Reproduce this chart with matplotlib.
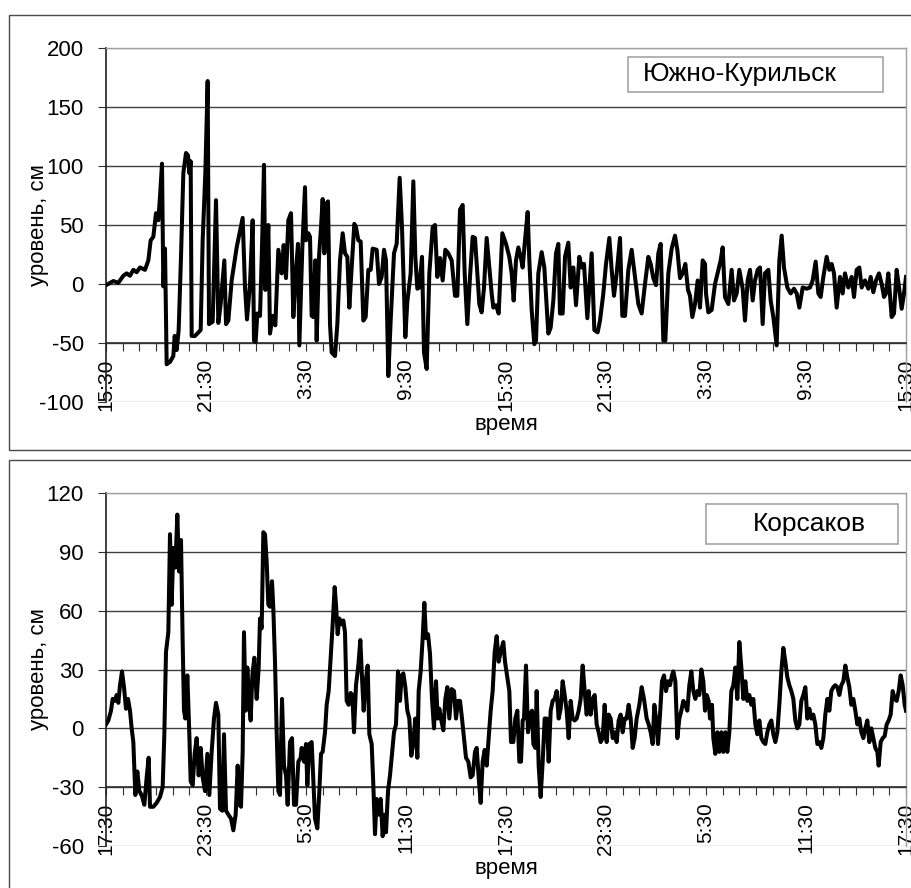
"""Sea level records, two tide gauges: Южно-Курильск and Корсаков."""

import matplotlib
matplotlib.use("Agg")
import matplotlib.pyplot as plt
import numpy as np
from matplotlib.patches import Rectangle

plt.rcParams["font.family"] = ["Liberation Sans", "DejaVu Sans"]
plt.rcParams["axes.unicode_minus"] = False

# hours from the first record, level in cm
KUR_HOURS = [
    0, 0.44, 0.74, 1.04, 1.24, 1.44, 1.64, 1.84, 2.04, 2.34, 2.54, 2.68, 2.84, 3.0, 3.14, 3.24,
    3.36, 3.44, 3.54, 3.64, 3.84, 4.04, 4.12, 4.24, 4.36, 4.5, 4.64, 4.8, 4.92, 5.0, 5.08, 5.14,
    5.34, 5.54, 5.68, 5.8, 5.96, 6.1, 6.18, 6.4, 6.6, 6.74, 6.88, 7.1, 7.2, 7.34, 7.54, 7.84,
    8.2, 8.34, 8.46, 8.64, 8.8, 8.88, 8.98, 9.08, 9.24, 9.36, 9.48, 9.56, 9.64, 9.74, 9.84, 10.0,
    10.16, 10.34, 10.54, 10.66, 10.8, 10.94, 11.1, 11.24, 11.4, 11.52, 11.6, 11.78, 11.94,
    12.0, 12.14, 12.24, 12.34, 12.44, 12.56, 12.64, 12.78, 12.9, 13.0, 13.1, 13.2, 13.32, 13.44,
    13.54, 13.74, 13.88, 14.04, 14.2, 14.34, 14.48, 14.6, 14.74, 14.9, 15.0, 15.14, 15.28, 15.44,
    15.58, 15.74, 15.88, 16.0, 16.24, 16.38, 16.54, 16.68, 16.8, 16.94, 17.08, 17.28, 17.44,
    17.62, 17.76, 17.96, 18.08, 18.28, 18.44, 18.56, 18.68, 18.8, 18.96, 19.08, 19.24, 19.4,
    19.6, 19.74, 19.88, 20.04, 20.2, 20.36, 20.54, 20.74, 20.94, 21.08, 21.24, 21.4, 21.52,
    21.68, 21.84, 22.0, 22.14, 22.28, 22.4, 22.54, 22.68, 22.84, 22.98, 23.14, 23.24, 23.4,
    23.56, 23.78,
    24.0, 24.2, 24.34, 24.46, 24.6, 24.74, 24.88, 25.0, 25.14, 25.3, 25.4, 25.54, 25.7, 25.8,
    25.94, 26.14, 26.3, 26.54, 26.68, 26.84, 27.0, 27.14, 27.24, 27.4, 27.54, 27.74, 27.88,
    28.04, 28.2, 28.4, 28.54, 28.68, 28.88, 29.14, 29.3, 29.5, 29.64, 29.84, 30.0, 30.2, 30.34,
    30.48, 30.64, 30.84, 30.98, 31.14, 31.34, 31.54, 31.74, 31.94, 32.14, 32.34, 32.54, 32.68,
    32.84, 33.0, 33.14, 33.28, 33.44, 33.56, 33.74, 33.94, 34.14, 34.28, 34.44, 34.6, 34.76,
    34.92, 35.04, 35.18, 35.34, 35.5, 35.64, 35.8, 35.94,
    36.0, 36.14, 36.34, 36.54, 36.74, 36.88, 37.0, 37.14, 37.34, 37.54, 37.68, 37.84, 38.0,
    38.2, 38.34, 38.5, 38.64, 38.8, 38.94, 39.1, 39.24, 39.4, 39.54, 39.74, 39.88, 40.04, 40.24,
    40.4, 40.54, 40.68, 40.88, 41.08, 41.28, 41.44, 41.6, 41.8, 42.04, 42.24, 42.4, 42.58,
    42.74, 42.88, 43.04, 43.24, 43.4, 43.54, 43.68, 43.84, 44.04, 44.2, 44.34, 44.54, 44.74,
    44.88, 45.04, 45.2, 45.34, 45.54, 45.74, 45.88, 46.04, 46.2, 46.38, 46.54, 46.68, 46.8,
    46.94, 47.14, 47.28, 47.44, 47.6, 47.74, 47.88, 48.0,
]
KUR_LEVEL = [
    -1, 2.5, 1, 7, 9, 7, 12, 10, 14, 12, 20, 37, 40, 60, 54, 74,
    102, -2, 30, -68, -66, -61, -44, -56, -39, 23, 94, 111, 109, 94, 104, -44,
    -44, -41, -39, 37, 94, 172, -34, -32, 71, -33, -17, 20, -34, -31, 3, 31,
    56, -3, -30, 0, 54, -48, -49, -25, -27, 31, 101, -5, 20, 50, -42, -27,
    -35, 29, 9, 33, 5, 54, 60, -28, 12, 34, -52, 31, 82,
    37, 43, 40, -27, -28, 20, -48, 23, 48, 72, 26, 68, 70, -34,
    -58, -61, -34, 20, 43, 26, 23, -20, 14, 51, 48, 37, 36, -31,
    -28, 12, 12, 30, 29, 0, 6, 29, 20, -78, -31, 26, 34,
    90, 48, -45, -15, 9, 87, 23, -4, -3, 23, -58, -72, 9,
    48, 50, 6, 22, 3, 29, 26, 20, -10, -10, 63, 67, 9,
    -34, 6, 40, 39, 9, -17, -24, -3, 39, 17, -8, -20, -18,
    -25, 43,
    34, 23, 9, -14, 20, 31, 23, 14, 37, 61, 20, -22, -51, -48,
    9, 27, 14, -42, -37, -14, 26, 34, -25, -25, 23, 35, -3,
    14, -18, 23, 14, 17, -29, 26, -39, -41, -31, -8, 17, 39, 12,
    -10, 9, 39, -27, -27, 12, 29, 6, -17, -25, 0, 23, 17,
    5, -1, 26, 34, -48, -48, 9, 30, 41, 29, 5, 9, 17,
    -5, -10, -28, -17, 3, -20, 20, 17,
    -8, -24, -22, 0, 12, 20, 31, -11, -17, 12, -14, -8, 12,
    -4, -31, 3, 12, -14, 3, 12, 14, -34, 9, 12, -14, -28, -52,
    20, 41, 14, -3, -8, -4, -8, -20, -3, -4, -3, 3, 19,
    -8, -11, 6, 23, 12, 17, 9, -20, 6, -8, 9, -3, 6,
    -11, 12, 14, -3, 3, -4, 6, -7, 3, 9, 0, -11, -8,
    9, -28, -25, 12, -5, -21, -8, 6,
]

KOR_HOURS = [
    0, 0.14, 0.3, 0.4, 0.54, 0.64, 0.74, 0.84, 0.96, 1.08, 1.2, 1.32, 1.44, 1.54, 1.64, 1.76,
    1.88, 2.0, 2.14, 2.3, 2.44, 2.56, 2.64, 2.84, 3.04, 3.24, 3.4, 3.5, 3.6, 3.74, 3.84, 3.94,
    4.04, 4.16, 4.28, 4.38, 4.5, 4.6, 4.68, 4.76, 4.88, 5.0, 5.08, 5.2, 5.32, 5.44, 5.56, 5.68,
    5.8, 5.94, 6.08, 6.2, 6.34, 6.48, 6.6, 6.74, 6.84, 6.98, 7.08, 7.2, 7.34, 7.5, 7.64, 7.78,
    7.9, 8.0, 8.1, 8.2, 8.28, 8.38, 8.48, 8.6, 8.68, 8.78, 8.9, 9.04, 9.16, 9.24, 9.34, 9.44,
    9.54, 9.64, 9.74, 9.84, 9.96, 10.04, 10.14, 10.24, 10.34, 10.44, 10.56, 10.68, 10.8, 10.9,
    11.04, 11.16, 11.28, 11.4, 11.54, 11.68, 11.74, 11.88,
    12.0, 12.08, 12.2, 12.34, 12.44, 12.54, 12.68, 12.8, 12.9, 13.0, 13.14, 13.24, 13.36, 13.48,
    13.6, 13.72, 13.8, 13.9, 14.0, 14.14, 14.24, 14.34, 14.44, 14.56, 14.68, 14.78, 14.88, 15.0,
    15.14, 15.26, 15.36, 15.46, 15.58, 15.7, 15.8, 15.94, 16.04, 16.14, 16.24, 16.36, 16.48,
    16.6, 16.72, 16.8, 16.92, 17.04, 17.16, 17.28, 17.4, 17.52, 17.64, 17.74, 17.84, 17.96,
    18.08, 18.2, 18.32, 18.44, 18.56, 18.68, 18.76, 18.88, 19.0, 19.1, 19.2, 19.32, 19.44,
    19.56, 19.68, 19.8, 19.9, 20.0, 20.12, 20.24, 20.36, 20.48, 20.6, 20.74, 20.88, 21.0,
    21.12, 21.24, 21.36, 21.48, 21.6, 21.74, 21.88, 22.0, 22.14, 22.24, 22.36, 22.48, 22.6,
    22.72, 22.84, 22.96, 23.08, 23.2, 23.32, 23.44, 23.56, 23.68, 23.84, 23.94,
    24.08, 24.2, 24.3, 24.44, 24.56, 24.68, 24.8, 24.9, 25.0, 25.08, 25.2, 25.32, 25.44, 25.56,
    25.64, 25.76, 25.84, 25.96, 26.08, 26.2, 26.32, 26.44, 26.56, 26.68, 26.8, 26.92, 27.04,
    27.16, 27.28, 27.4, 27.52, 27.64, 27.76, 27.88, 28.0, 28.12, 28.24, 28.36, 28.48, 28.6,
    28.72, 28.84, 28.96, 29.08, 29.2, 29.32, 29.44, 29.56, 29.68, 29.8, 29.92, 30.04, 30.16,
    30.28, 30.4, 30.52, 30.64, 30.76, 30.88, 31.0, 31.12, 31.24, 31.36, 31.48, 31.6, 31.72,
    31.84, 32.0, 32.14, 32.28, 32.44, 32.56, 32.68, 32.8, 32.9, 33.0, 33.12, 33.24, 33.36,
    33.48, 33.6, 33.72, 33.84, 33.96, 34.04, 34.16, 34.28, 34.4, 34.52, 34.64, 34.76, 34.88,
    35.0, 35.12, 35.24, 35.36, 35.48, 35.6, 35.72, 35.84, 35.94,
    36.04, 36.16, 36.24, 36.36, 36.44, 36.56, 36.68, 36.8, 36.92, 37.04, 37.16, 37.28, 37.4,
    37.52, 37.64, 37.76, 37.88, 38.0, 38.12, 38.24, 38.36, 38.48, 38.6, 38.72, 38.84, 38.96,
    39.08, 39.2, 39.32, 39.44, 39.56, 39.68, 39.8, 39.92, 40.04, 40.16, 40.28, 40.4, 40.52,
    40.64, 40.76, 40.88, 41.0, 41.12, 41.24, 41.36, 41.48, 41.6, 41.72, 41.84, 41.96, 42.08,
    42.2, 42.32, 42.44, 42.56, 42.68, 42.8, 42.92, 43.04, 43.16, 43.28, 43.4, 43.52, 43.64,
    43.76, 43.88, 44.0, 44.12, 44.24, 44.36, 44.48, 44.6, 44.72, 44.84, 44.96, 45.08, 45.2,
    45.32, 45.44, 45.56, 45.68, 45.8, 45.92, 46.04, 46.16, 46.28, 46.36, 46.48, 46.6, 46.72,
    46.84, 46.96, 47.08, 47.2, 47.32, 47.44, 47.56, 47.68, 47.8, 47.92, 48.0,
]
KOR_LEVEL = [
    2, 4, 9, 15, 14, 17, 13, 22, 29, 21, 10, 15, 9, 0, -7, -34,
    -22, -32, -34, -39, -25, -15, -40, -40, -38, -35, -30, -3, 39, 49, 99, 63,
    92, 82, 109, 80, 96, 44, 9, 5, 27, -3, -27, -29, -13, -5, -24, -10,
    -25, -32, -13, -34, -12, 5, 13, 7, -41, -42, -3, -42, -44, -46, -52, -44,
    -19, -39, -40, -12, 49, 9, 31, 12, 4, 27, 36, 15, 31, 56, 51, 100,
    99, 85, 63, 62, 75, 61, 34, -2, -32, -34, 15, -19, -24, -39,
    -7, -5, -39, -39, -17, -15, -10, -17,
    -8, -29, -8, -7, -27, -46, -51, -32, -13, -12, -2, 12, 19, 36,
    53, 72, 63, 48, 56, 53, 55, 49, 14, 12, 18, 17, -2, 22,
    32, 45, 26, 9, 24, 32, -3, -8, -29, -54, -36, -44, -36,
    -55, -44, -53, -32, -24, -13, -2, 2, 29, 14, 27, 28, 21,
    9, 5, -14, -7, 5, -15, 19, 29, 46, 64, 46, 48, 38,
    15, 0, 24, 5, 10, 4, -1, 15, 21, 5, 20, 19, 5,
    14, 14, 5, -5, -15, -17, -25, -24, -12, -10, -25, -38, -17,
    -11, -19, -5, 9, 19, 39, 47, 34, 39, 44, 34,
    26, 19, -7, -7, 5, 9, -17, -17, 4, 5, 32, -2, 7, 9,
    -8, -10, 19, -19, -35, -17, 5, 5, -17, 9, 14, 15, 19,
    5, 10, 24, 17, 9, -5, 14, 5, 4, 5, 9, 15, 32,
    19, 7, 19, 7, 15, 17, 2, -2, -7, -5, 12, -7, 7,
    5, -5, -2, -7, 4, 7, -2, 5, 5, 12, 5, -10, -5,
    5, 12, 21, 15, 5, 2, -2, -8, 12, 5, -8, 7, 24,
    27, 19, 24, 22, 27, 29, 24, -5, 5, 9, 14, 12, 9,
    22, 29, 19, 15, 19, 17, 30, 24, 9,
    17, 14, 5, 12, -5, -13, -2, -12, -2, -12, -2, -12, -2,
    19, 22, 31, 15, 44, 31, 15, 24, 14, 17, 12, 15, 2,
    -3, 4, -5, -7, -8, -2, 2, 4, -3, -7, -2, 12, 29,
    41, 34, 26, 22, 19, 15, 4, 0, 2, 14, 17, 21, 5,
    10, 5, 7, 2, -8, -7, -10, -5, 7, 15, 9, 19, 21,
    22, 21, 17, 22, 24, 32, 26, 21, 12, 15, 9, 2, 5,
    -2, -5, 0, 4, -7, 0, -5, -10, -12, -19, -7, -5, -4,
    2, 4, 7, 19, 15, 14, 19, 27, 22, 12, 9,
]

KUR_TICKS = ["15:30", "21:30", "3:30", "9:30", "15:30", "21:30", "3:30", "9:30", "15:30"]
KOR_TICKS = ["17:30", "23:30", "5:30", "11:30", "17:30", "23:30", "5:30", "11:30", "17:30"]

W, H = 912, 888


def px_box(x0, y0, x1, y1):
    """Pixel box (top-left origin) -> figure fraction [left, bottom, width, height]."""
    return [x0 / W, 1 - y1 / H, (x1 - x0) / W, (y1 - y0) / H]


def draw_panel(fig, frame, plot_box, hours, level, ylim, ystep, axis_y, ticks,
               name, leg_box, leg_text_x):
    fig.patches.append(Rectangle(frame[:2], frame[2], frame[3], transform=fig.transFigure,
                                 fill=False, edgecolor="#4a4a4a", lw=1.0))
    ax = fig.add_axes(plot_box)
    ax.plot(hours, level, color="black", lw=2.9, zorder=3)

    ax.set_xlim(0, 48)
    ax.set_ylim(*ylim)
    ax.set_yticks(np.arange(ylim[0], ylim[1] + 1, ystep))
    ax.set_xticks(range(49))
    ax.set_xticklabels([ticks[i // 6] if i % 6 == 0 else "" for i in range(49)])

    ax.grid(axis="y", color="#404040", lw=1.0)
    ax.get_ygridlines()[0].set_color("#a0a0a0")
    ax.get_ygridlines()[-1].set_color("#a0a0a0")
    ax.set_axisbelow(True)

    for side in ("top", "right"):
        ax.spines[side].set_color("#a0a0a0")
        ax.spines[side].set_linewidth(1.0)
    ax.spines["left"].set_color("#202020")
    ax.spines["left"].set_linewidth(1.2)
    ax.spines["bottom"].set_position(("data", axis_y))
    ax.spines["bottom"].set_color("#303030")
    ax.spines["bottom"].set_linewidth(1.2)

    ax.tick_params(axis="y", direction="out", length=6, pad=10, labelsize=16, color="#303030")
    ax.tick_params(axis="x", direction="out", length=6, pad=5, labelsize=15,
                   labelrotation=90, color="#303030")

    ax.set_ylabel("уровень, см", fontsize=16, va="center")
    ax.yaxis.set_label_coords(-0.084, 0.5)
    ax.text(0.501, -0.064, "время", transform=ax.transAxes, fontsize=16,
            ha="center", va="center")

    x0, y0, x1, y1 = leg_box
    ax.add_patch(Rectangle((x0, y0), x1 - x0, y1 - y0, transform=ax.transAxes,
                           facecolor="white", edgecolor="#a6a6a6", lw=1.2, zorder=5))
    ax.text(leg_text_x, (y0 + y1) / 2, name, transform=ax.transAxes, fontsize=19,
            ha="left", va="center", zorder=6)
    return ax


fig = plt.figure(figsize=(W / 100, H / 100), dpi=100)

draw_panel(fig, px_box(9, 15, 930, 450), px_box(106, 48, 906, 402),
           KUR_HOURS, KUR_LEVEL, (-100, 200), 50, -50, KUR_TICKS,
           "Южно-Курильск", (0.6525, 0.8757, 0.971, 0.9746), 0.671)
draw_panel(fig, px_box(9, 460, 930, 900), px_box(106, 493, 906, 846),
           KOR_HOURS, KOR_LEVEL, (-60, 120), 30, -30, KOR_TICKS,
           "Корсаков", (0.75, 0.8555, 0.99, 0.9688), 0.80875)

fig.savefig("out.png", dpi=100)
